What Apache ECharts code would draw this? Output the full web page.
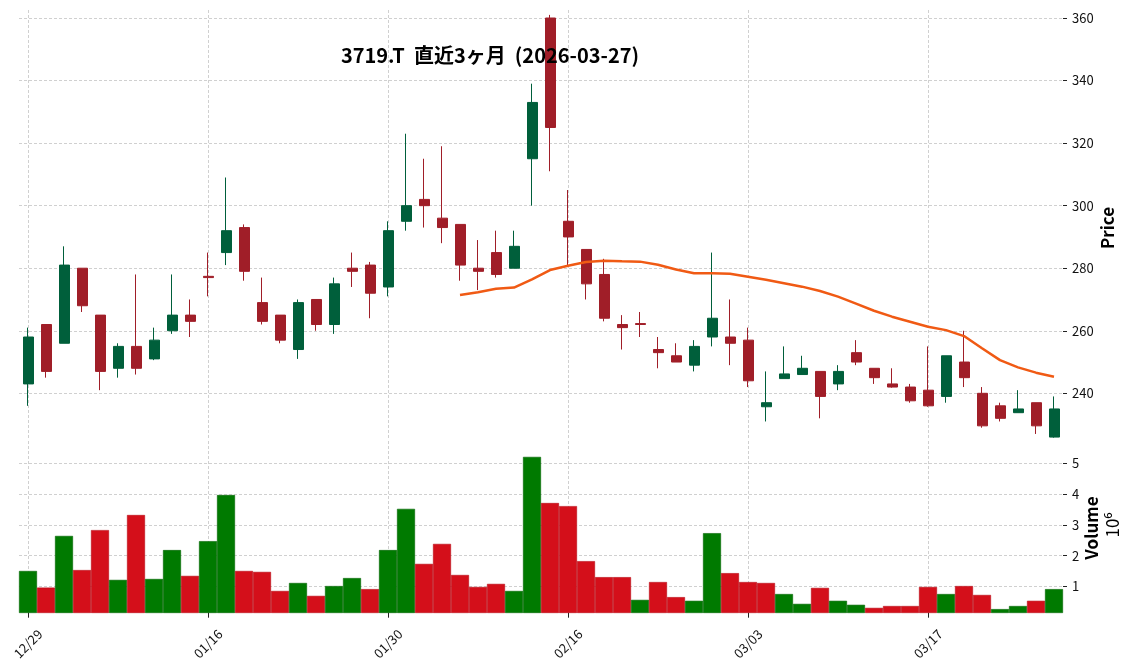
<!DOCTYPE html>
<html><head><meta charset="utf-8">
<script src="https://cdn.jsdelivr.net/npm/echarts/dist/echarts.min.js"></script>
<style>html,body{margin:0;padding:0;background:#fff}#c{width:1136px;height:670px}</style>
</head><body><div id="c"></div>
<script>
const dates = ['12/29','12/30','01/05','01/06','01/07','01/08','01/09','01/13','01/14','01/15',
  '01/16','01/19','01/20','01/21','01/22','01/23','01/26','01/27','01/28','01/29',
  '01/30','02/02','02/03','02/04','02/05','02/06','02/09','02/10','02/12','02/13',
  '02/16','02/17','02/18','02/19','02/20','02/24','02/25','02/26','02/27','03/02',
  '03/03','03/04','03/05','03/06','03/09','03/10','03/11','03/12','03/13','03/16',
  '03/17','03/18','03/19','03/23','03/24','03/25','03/26','03/27'];
const opens  = [243,262,256,280,265,248,255,251,260,265, 277.4,285,293,269,265,254,270,262,280,281,
  274,295,302,296,294,280,285,280,315,360, 295,286,278,262,262.3,254,252,249,258,258,
  257,235.7,244.7,246,247,243,253,248,243,242, 241,239,250,240,236,233.8,237,226];
const closes = [258,247,281,268,247,255,248,257,265,263, 277,292,279,263,257,269,262,275,279,272,
  292,300,300,293,281,279,278,287,333,325, 290,275,264,261,262,253,250,255,264,256,
  244,237,246.2,248,239,247,250,245,242,237.6, 236,252,245,229.6,232,235,229.6,235];
const lows   = [236,245,256,266,241,245,246,250.6,259,258, 271,281,276,262,256,251,260,259,274,264,
  271,292,293,288,276,273,277,280,300,311, 281,270,263,254,258,248,250,247,255,249,
  242,231,244.7,246,232,241,249,243,241.8,237, 235.7,237,242,229,231,233.8,227,225.8];
const highs  = [261,262,287,280,265,256,278,261,278,270, 285,309,294,277,265,270,270,277,285,282,
  295,323,315,319,294,289,292,292,339,361, 305,286,283,265,266,258,256,257,285,270,
  261,247,255,252,247,249,257,248,248,243, 255,252,260,242,237,241,237,239];
const volumes = [1.50e6,0.96e6,2.64e6,1.53e6,2.83e6,1.21e6,3.32e6,1.24e6,2.18e6,1.34e6,
  2.47e6,3.97e6,1.50e6,1.47e6,0.85e6,1.11e6,0.69e6,1.01e6,1.27e6,0.91e6,
  2.18e6,3.52e6,1.73e6,2.38e6,1.37e6,0.98e6,1.08e6,0.85e6,5.21e6,3.71e6,
  3.61e6,1.82e6,1.30e6,1.30e6,0.56e6,1.14e6,0.65e6,0.53e6,2.73e6,1.43e6,
  1.14e6,1.11e6,0.75e6,0.43e6,0.95e6,0.53e6,0.40e6,0.30e6,0.36e6,0.36e6,
  0.98e6,0.75e6,1.01e6,0.72e6,0.26e6,0.36e6,0.53e6,0.91e6];
const volumeUp = [1,0,1,0,0,1,0,1,1,0, 1,1,0,0,0,1,0,1,1,0, 1,1,0,0,0,0,0,1,1,0,
  0,0,0,0,1,0,0,1,1,0, 0,0,1,1,0,1,1,0,0,0, 0,1,0,0,1,1,0,1];
const ma25Start = 24;
const ma25 = [271.4,272.3,273.4,273.8,276.4,279.4,280.8,282.0,282.4,282.2,
  282.1,281.1,279.6,278.4,278.4,278.2,277.3,276.3,275.2,274.1,
  272.7,270.9,268.7,266.4,264.5,262.9,261.3,260.2,258.3,254.4,
  250.6,248.3,246.6,245.3];
const priceTicks = [240,260,280,300,320,340,360];
const volumeTicks = [1e6,2e6,3e6,4e6,5e6];
const titleText = '3719.T  直近3ヶ月  (2026-03-27)';

const FONT = "'Noto Sans CJK JP', 'Noto Sans', sans-serif";
const candleData = dates.map((d, i) => [opens[i], closes[i], lows[i], highs[i]]);
const volData = volumes.map((v, i) => ({
  value: v,
  itemStyle: {
    color: volumeUp[i] ? '#007a00' : '#d40f1a',
    borderColor: volumeUp[i] ? '#006400' : '#b80b15',
    borderWidth: 0.6
  }
}));
const maData = dates.map((d, i) => i < ma25Start ? '-' : ma25[i - ma25Start]);
const every10 = (index) => index % 10 === 0;
const gridLineStyle = {color: '#c4c4c4', width: 0.8, type: [3, 2]};

const chart = echarts.init(document.getElementById('c'), null, {renderer: 'canvas'});
chart.setOption({
  animation: false,
  backgroundColor: '#fff',
  grid: [
    {left: 19, right: 73, top: 10, height: 430},
    {left: 19, right: 73, top: 441, height: 171.7}
  ],
  xAxis: [
    {type: 'category', gridIndex: 0, data: dates, boundaryGap: true,
     axisLine: {show: false}, axisTick: {show: false}, axisLabel: {show: false},
     splitLine: {show: true, interval: every10, alignWithLabel: true, lineStyle: gridLineStyle}},
    {type: 'category', gridIndex: 1, data: dates, boundaryGap: true,
     axisLine: {show: false},
     axisTick: {show: true, alignWithLabel: true, interval: every10, length: 5, lineStyle: {color: '#222', width: 1}},
     axisLabel: {interval: every10, rotate: 45, align: 'center', verticalAlign: 'middle', margin: 31,
                 fontSize: 13, color: '#111', fontFamily: FONT},
     splitLine: {show: true, interval: every10, alignWithLabel: true, lineStyle: gridLineStyle}}
  ],
  yAxis: [
    {type: 'value', gridIndex: 0, position: 'right', min: 225.07, max: 362.56,
     axisLine: {show: false},
     axisTick: {show: true, length: 4, customValues: priceTicks, lineStyle: {color: '#222'}},
     axisLabel: {customValues: priceTicks, margin: 9, fontSize: 13, color: '#111', fontFamily: FONT},
     splitLine: {show: true, lineStyle: gridLineStyle}},
    {type: 'value', gridIndex: 1, position: 'right', min: 0.143e6, max: 5.727e6,
     axisLine: {show: false},
     axisTick: {show: true, length: 4, customValues: volumeTicks, lineStyle: {color: '#222'}},
     axisLabel: {customValues: volumeTicks, margin: 9, fontSize: 13, color: '#111', fontFamily: FONT,
                 formatter: v => String(Math.round(v / 1e6))},
     splitLine: {show: true, lineStyle: gridLineStyle}}
  ],
  graphic: [
    {type: 'text', z: 100, x: 490, y: 55, style: {text: titleText, font: 'bold 20px ' + FONT, fill: '#000', align: 'center', verticalAlign: 'middle'}},
    {type: 'text', z: 100, x: 1108, y: 228, rotation: Math.PI / 2, style: {text: 'Price', font: 'bold 17px ' + FONT, fill: '#000', align: 'center', verticalAlign: 'middle'}},
    {type: 'text', z: 100, x: 1092, y: 528, rotation: Math.PI / 2, style: {text: 'Volume', font: 'bold 17px ' + FONT, fill: '#000', align: 'center', verticalAlign: 'middle'}},
    {type: 'text', z: 100, x: 1113, y: 525, rotation: Math.PI / 2, style: {text: '10⁶', font: '17px ' + FONT, fill: '#000', align: 'center', verticalAlign: 'middle'}}
  ],
  series: [
    {type: 'candlestick', xAxisIndex: 0, yAxisIndex: 0, data: candleData, barWidth: 10.5, clip: true,
     itemStyle: {color: '#005f3b', color0: '#a01e28', borderColor: '#005f3b', borderColor0: '#a01e28', borderWidth: 1}},
    {type: 'line', xAxisIndex: 0, yAxisIndex: 0, data: maData, symbol: 'none', smooth: false,
     lineStyle: {color: '#f05a14', width: 2.5}, z: 3},
    {type: 'bar', xAxisIndex: 1, yAxisIndex: 1, data: volData, barCategoryGap: '0%', barWidth: '100%', clip: true}
  ]
});
</script>
</body></html>
